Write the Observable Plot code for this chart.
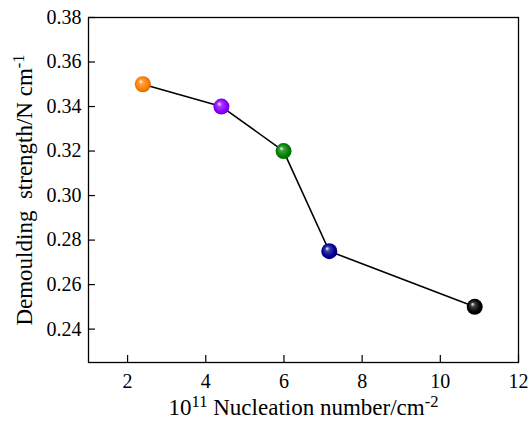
<!DOCTYPE html>
<html>
<head>
<meta charset="utf-8">
<script src="https://cdn.jsdelivr.net/npm/d3@7"></script>
<script src="https://cdn.jsdelivr.net/npm/@observablehq/plot@0.6"></script>
<style>
  html, body { margin: 0; padding: 0; background: #fff; }
  #chart svg, #chart svg text, #chart svg tspan { font-family: "Liberation Serif", "Times New Roman", serif !important; font-variant: normal !important; font-variant-numeric: normal !important; }
</style>
</head>
<body>
<svg width="0" height="0" style="position:absolute">
  <defs id="grads"></defs>
</svg>
<div id="chart"></div>
<script>
const nucleation = [2.39, 4.40, 5.99, 7.16, 10.88];
const strength = [0.350, 0.340, 0.320, 0.275, 0.250];
const colors = ["#ff8000", "#8a00ff", "#008000", "#000090", "#000000"];
const xTicks = [2, 4, 6, 8, 10, 12];
const yTicks = [0.24, 0.26, 0.28, 0.30, 0.32, 0.34, 0.36, 0.38];

// sphere gradients
const defs = d3.select("#grads");
colors.forEach((c, i) => {
  const g = defs.append("radialGradient").attr("id", "sph" + i)
    .attr("cx", "0.5").attr("cy", "0.5").attr("r", "0.55")
    .attr("fx", "0.35").attr("fy", "0.32");
  g.append("stop").attr("offset", "0").attr("stop-color", "#ffffff");
  g.append("stop").attr("offset", "0.25").attr("stop-color", d3.interpolateRgb(c, "#fff")(0.25));
  g.append("stop").attr("offset", "0.7").attr("stop-color", c);
  g.append("stop").attr("offset", "1").attr("stop-color", d3.color(c).darker(0.8).formatHex());
});

const data = nucleation.map((x, i) => ({x, y: strength[i], fill: `url(#sph${i})`}));
const serif = "Liberation Serif";

const chart = Plot.plot({
  width: 529,
  height: 425,
  marginLeft: 88,
  marginRight: 11,
  marginTop: 17,
  marginBottom: 63,
  style: {fontFamily: "'Liberation Serif', serif", fontSize: "20px", color: "#000", background: "#fff"},
  x: {domain: [1, 12], ticks: xTicks, tickFormat: d3.format("d"), label: null},
  y: {domain: [0.225, 0.38], ticks: yTicks, tickFormat: d3.format(".2f"), label: null},
  color: {type: "identity"},
  marks: [
    Plot.frame({stroke: "#000", strokeWidth: 1.3}),
    Plot.axisX({ticks: xTicks, tickFormat: d3.format("d"), tickSize: -7, tickPadding: 18, fontSize: 20, fontFamily: serif, fontVariant: "normal", strokeWidth: 1.2}),
    Plot.axisY({ticks: yTicks, tickFormat: d3.format(".2f"), tickSize: -7, tickPadding: 14, fontSize: 20, fontFamily: serif, fontVariant: "normal", strokeWidth: 1.2}),
    Plot.line(data, {x: "x", y: "y", stroke: "#000", strokeWidth: 1.6}),
    Plot.dot(data, {x: "x", y: "y", r: 8, fill: "fill", stroke: "none"}),
    Plot.text(["YLABEL"], {frameAnchor: "left", textAnchor: "middle", rotate: -90, dx: -64, fontSize: 23, fontFamily: serif, fill: "#000"}),
    Plot.text(["XLABEL"], {frameAnchor: "bottom", textAnchor: "middle", dy: 52, fontSize: 23, fontFamily: serif, fill: "#000"})
  ]
});
document.getElementById("chart").appendChild(chart);
d3.select(chart).selectAll("text").attr("font-family", serif).style("font-family", "'Liberation Serif', serif").style("font-variant", "normal");

function setRich(el, parts) {
  el.textContent = "";
  const s = d3.select(el);
  parts.forEach(([t, sup]) => {
    const ts = s.append("tspan").text(t);
    if (sup) ts.attr("font-size", "0.72em").attr("baseline-shift", "50%");
  });
}
d3.select(chart).selectAll("text").each(function() {
  if (this.textContent === "YLABEL") setRich(this, [["Demoulding\u00a0 strength/N cm", false], ["-1", true]]);
  if (this.textContent === "XLABEL") setRich(this, [["10", false], ["11", true], [" Nucleation number/cm", false], ["-2", true]]);
});
</script>
</body>
</html>
